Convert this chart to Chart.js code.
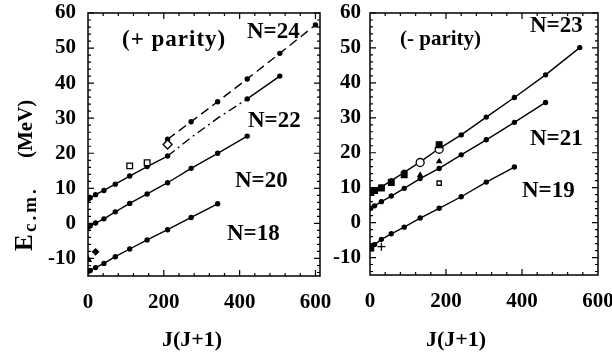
<!DOCTYPE html>
<html>
<head>
<meta charset="utf-8">
<script src="https://cdn.jsdelivr.net/npm/chart.js@4.4.0/dist/chart.umd.min.js"></script>
<style>
    body { margin: 0; background: #fff; width: 612px; height: 354px; overflow: hidden; position: relative; }
    canvas { position: absolute; top: 0; }
    #esq { left: 0; }
    #dir { left: 333px; }
</style>
</head>
<body>
<canvas id="esq" width="333" height="354"></canvas>
<canvas id="dir" width="279" height="354"></canvas>
<script>
// J(J+1) para J par (paridade +) e J impar (paridade -)
const jPar = [0, 6, 20, 42, 72, 110, 156, 210, 272, 342, 420, 506, 600];
const jImpar = [2, 12, 30, 56, 90, 132, 182, 240, 306, 380, 462, 552];

const n18 = [-13.8, -13.4, -12.6, -11.4, -9.5, -7.3, -4.7, -1.8, 1.7, 5.6];
const n20 = [-1.1, -0.7, 0.1, 1.3, 3.3, 5.7, 8.4, 11.6, 15.7, 20.0, 24.9];
const n22 = [6.9, 7.3, 8.2, 9.4, 11.2, 13.5, 16.2, 19.2, 24.5, 30.0, 35.5, 42.0];
const n24x = [210, 272, 342, 420, 506, 600];
const n24 = [24.0, 29.0, 34.7, 41.2, 48.5, 56.6];

const n19 = [-6.9, -6.3, -4.8, -3.2, -1.3, 1.3, 4.1, 7.4, 11.6, 15.9];
const n21 = [4.1, 4.8, 6.0, 7.6, 9.8, 12.6, 15.5, 19.4, 23.7, 28.7, 34.4];
const n23 = [8.4, 9.0, 10.2, 12.0, 14.4, 17.4, 21.2, 25.1, 30.2, 35.8, 42.3, 50.1];

// pontos experimentais
const expQuadAbertoPar = { x: [110, 156], y: [16.4, 17.3] };
const expLosangoAbertoPar = { x: [210], y: [22.5] };
const expLosangoPar = { x: [20], y: [-8.1] };
const expTrianguloPar = { x: [0], y: [-10.3] };

const expQuadImpar = { x: [2, 12, 30, 56, 90, 182, 2], y: [8.6, 9.2, 9.9, 11.5, 13.7, 22.3, -7.3] };
const expCirculoImpar = { x: [132, 182], y: [17.2, 21.0] };
const expTrianguloImpar = { x: [182, 132], y: [17.5, 13.6] };
const expQuadAbertoImpar = { x: [182], y: [11.3] };
const expCruzImpar = { x: [30], y: [-6.9] };

const xTicks = [0, 200, 400, 600];
const yTicks = [-10, 0, 10, 20, 30, 40, 50, 60];

const fonte = '"Liberation Serif", "Times New Roman", serif';

function serie(xs, ys) {
    return ys.map((y, i) => ({ x: xs[i], y }));
}

function linha(xs, ys, extra) {
    return Object.assign({
        data: serie(xs, ys),
        showLine: true,
        borderColor: '#000',
        backgroundColor: '#000',
        borderWidth: 1.4,
        pointRadius: 2,
        pointHoverRadius: 2,
        order: 2
    }, extra || {});
}

function marcador(obj, estilo, cheio, raio) {
    return {
        data: serie(obj.x, obj.y),
        showLine: false,
        pointStyle: estilo,
        pointRadius: raio || 4,
        borderColor: '#000',
        backgroundColor: cheio ? '#000' : '#fff',
        borderWidth: 1.3,
        order: 0
    };
}

// moldura e tracinhos para dentro nos quatro lados
const moldura = {
    id: 'moldura',
    afterDraw(chart) {
        const { ctx, chartArea: a, scales } = chart;
        ctx.save();
        ctx.strokeStyle = '#000';
        ctx.lineWidth = 1.5;
        ctx.strokeRect(a.left, a.top, a.right - a.left, a.bottom - a.top);
        ctx.lineWidth = 1.2;
        ctx.beginPath();
        for (let v = -14; v <= 60; v += 2) {
            const y = scales.y.getPixelForValue(v);
            const t = v % 10 === 0 ? 6 : 3;
            ctx.moveTo(a.left, y); ctx.lineTo(a.left + t, y);
            ctx.moveTo(a.right, y); ctx.lineTo(a.right - t, y);
        }
        for (let v = 40; v < scales.x.max; v += 40) {
            const x = scales.x.getPixelForValue(v);
            const t = v % 200 === 0 ? 6 : 3;
            ctx.moveTo(x, a.bottom); ctx.lineTo(x, a.bottom - t);
            ctx.moveTo(x, a.top); ctx.lineTo(x, a.top + t);
        }
        ctx.stroke();

        ctx.fillStyle = '#000';
        ctx.textBaseline = 'alphabetic';
        (chart.options.plugins.textos || []).forEach(t => {
            ctx.font = t.font;
            ctx.letterSpacing = t.esp || '0px';
            ctx.fillText(t.txt, t.x, t.y);
        });
        ctx.letterSpacing = '0px';

        // titulo do eixo x
        ctx.font = 'bold 22px ' + fonte;
        ctx.textAlign = 'center';
        ctx.fillText('J(J+1)', chart.options.plugins.tituloX, 346);

        // titulo do eixo y (so no painel da esquerda)
        if (chart.options.plugins.tituloY) {
            ctx.save();
            ctx.translate(32, 251);
            ctx.rotate(-Math.PI / 2);
            ctx.textAlign = 'left';
            ctx.font = 'bold 25px ' + fonte;
            ctx.fillText('E', 0, 0);
            ctx.font = 'bold 19px ' + fonte;
            ctx.letterSpacing = '3px';
            ctx.fillText('c.m.', 19, 4);
            ctx.letterSpacing = '0px';
            ctx.font = 'bold 21px ' + fonte;
            ctx.fillText('(MeV)', 93, 0);
            ctx.restore();
        }
        ctx.restore();
    }
};

function opcoes(xMax, larguraY, alturaX, padDir, padY, textos, tituloX, tituloY) {
    return {
        responsive: false,
        animation: false,
        layout: { padding: { top: 13, right: padDir, left: 0, bottom: 0 } },
        plugins: {
            legend: { display: false },
            tooltip: { enabled: false },
            textos: textos,
            tituloX: tituloX,
            tituloY: tituloY
        },
        scales: {
            x: {
                type: 'linear',
                min: 0,
                max: xMax,
                afterBuildTicks: s => { s.ticks = xTicks.map(v => ({ value: v })); },
                afterFit: s => { s.height = alturaX; s.paddingLeft = 0; s.paddingRight = 0; },
                grid: { display: false, drawTicks: false },
                border: { display: false },
                ticks: { padding: 14, color: '#000', maxRotation: 0, autoSkip: false, font: { family: fonte, size: 21, weight: 'bold' } }
            },
            y: {
                min: -15,
                max: 60,
                afterBuildTicks: s => { s.ticks = yTicks.map(v => ({ value: v })); },
                afterFit: s => { s.width = larguraY; s.paddingTop = 0; s.paddingBottom = 0; },
                grid: { display: false, drawTicks: false },
                border: { display: false },
                ticks: { padding: padY, color: '#000', autoSkip: false, font: { family: fonte, size: 21, weight: 'bold' } }
            }
        }
    };
}

const trechoN22 = ctx => (ctx.p0.parsed.x >= 210 && ctx.p1.parsed.x <= 420) ? [9, 4, 2, 4] : undefined;

new Chart(document.getElementById('esq'), {
    type: 'scatter',
    data: {
        datasets: [
            linha(jPar, n18),
            linha(jPar, n20),
            linha(jPar, n22, {
                segment: { borderDash: trechoN22 },
                pointRadius: c => (c.raw && c.raw.x > 210 && c.raw.x < 420) ? 0 : 2
            }),
            linha(n24x, n24, { borderDash: [9, 5] }),
            marcador(expQuadAbertoPar, 'rect', false, 4),
            marcador(expLosangoAbertoPar, 'rectRot', false, 4.5),
            marcador(expLosangoPar, 'rectRot', true, 3),
            marcador(expTrianguloPar, 'triangle', true, 3.5)
        ]
    },
    options: opcoes(612, 88, 78, 13, 12, [
        { txt: '(+ parity)', x: 122, y: 46, font: 'bold 23px ' + fonte, esp: '1px' },
        { txt: 'N=24', x: 247, y: 38, font: 'bold 23px ' + fonte },
        { txt: 'N=22', x: 248, y: 127, font: 'bold 23px ' + fonte },
        { txt: 'N=20', x: 235, y: 187, font: 'bold 23px ' + fonte },
        { txt: 'N=18', x: 227, y: 240, font: 'bold 23px ' + fonte }
    ], 192, true),
    plugins: [moldura]
});

new Chart(document.getElementById('dir'), {
    type: 'scatter',
    data: {
        datasets: [
            linha(jImpar, n19),
            linha(jImpar, n21),
            linha(jImpar, n23),
            marcador(expQuadImpar, 'rect', true, 4),
            marcador(expCirculoImpar, 'circle', false, 4),
            marcador(expTrianguloImpar, 'triangle', true, 2.5),
            marcador(expQuadAbertoImpar, 'rect', false, 3),
            marcador(expCruzImpar, 'cross', true, 4)
        ]
    },
    options: opcoes(600, 37, 79, 14, 9, [
        { txt: '(- parity)', x: 400 - 333, y: 45, font: 'bold 21px ' + fonte },
        { txt: 'N=23', x: 530 - 333, y: 32, font: 'bold 23px ' + fonte },
        { txt: 'N=21', x: 530 - 333, y: 145, font: 'bold 23px ' + fonte },
        { txt: 'N=19', x: 522 - 333, y: 197, font: 'bold 23px ' + fonte }
    ], 456 - 333, false),
    plugins: [moldura]
});
</script>
</body>
</html>
